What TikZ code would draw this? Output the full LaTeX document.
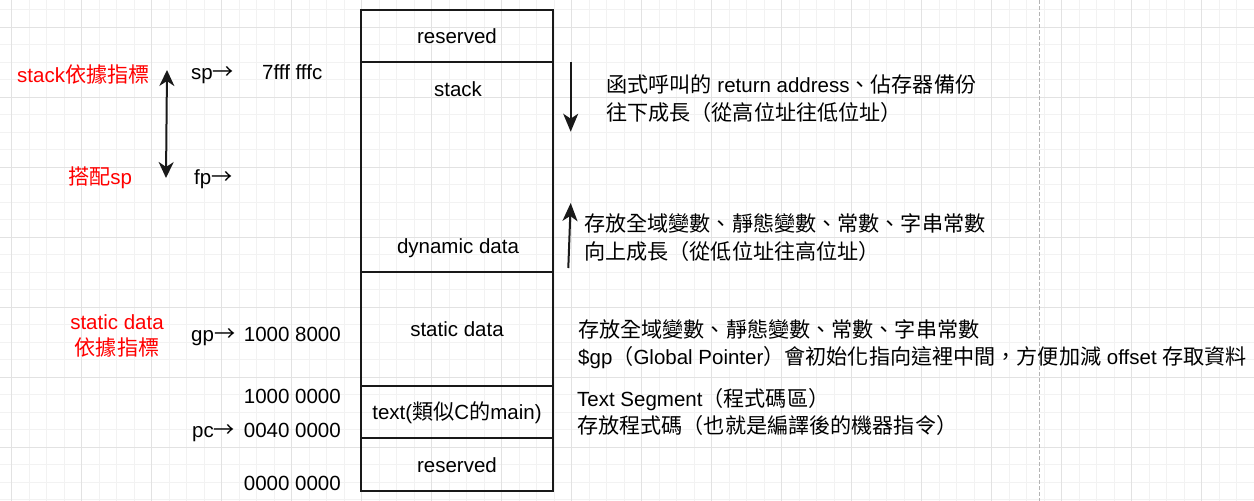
\documentclass[tikz,border=0pt]{standalone}
\usepackage{fontspec}
\setmainfont{Liberation Sans}
\newfontfamily\cjk[Scale=1.03]{Noto Sans CJK TC}
\usetikzlibrary{arrows.meta}
\definecolor{lblred}{RGB}{255,0,0}
\definecolor{gridminor}{RGB}{242,242,242}
\definecolor{gridmajor}{RGB}{226,226,226}
\definecolor{dashgray}{RGB}{180,180,180}
\begin{document}
\begin{tikzpicture}[x=1pt,y=-1pt,
  every node/.style={inner sep=0pt, font=\fontsize{20.5}{24}\selectfont, text height=19pt, text depth=4pt},
  seg/.style={draw=black!90, line width=2pt, minimum width=192pt},
  redlbl/.style={text=lblred},
  arr/.style={line width=2pt, draw=black!90}]
\useasboundingbox (0,0) rectangle (1254,501);
\fill[white] (0,0) rectangle (1254,501);
% grid
\foreach \i in {0,...,70} {\draw[gridminor, line width=1pt] ({11.7+17.5*\i},0) -- ({11.7+17.5*\i},501);}
\foreach \i in {0,...,28} {\draw[gridminor, line width=1pt] (0,{9.8+17.5*\i}) -- (1254,{9.8+17.5*\i});}
\foreach \i in {0,4,...,68} {\draw[gridmajor, line width=1pt] ({11.7+17.5*\i},0) -- ({11.7+17.5*\i},501);}
\foreach \i in {1,5,...,25} {\draw[gridmajor, line width=1pt] (0,{9.8+17.5*\i}) -- (1254,{9.8+17.5*\i});}
\draw[dashgray, line width=1pt, dash pattern=on 3.5pt off 2.5pt] (1039.3,0) -- (1039.3,501);

% memory box
\node[seg, minimum height=52pt] (resTop) at (457,36) {reserved};
\node[seg, minimum height=210pt] (stk) at (457,167) {};
\node (stklbl) at (458,89) {stack};
\node (dyn) at (458,246) {dynamic data};
\node[seg, minimum height=114pt] (stat) at (457,329) {static data};
\node[seg, minimum height=52pt] (txt) at (457,412) {text({\cjk 類似}C{\cjk 的}main)};
\node[seg, minimum height=53pt] (resBot) at (457,464.5) {reserved};

% left labels
\node[redlbl, anchor=west] (l1) at (17,75) {stack{\cjk 依據指標}};
\node[anchor=west] (sp) at (191,72) {sp{\cjk →}};
\node[anchor=west] (spv) at (262,72) {7fff fffc};
\node[redlbl, anchor=west] (l2) at (68,177) {{\cjk 搭配}sp};
\node[anchor=west] (fp) at (194,177) {fp{\cjk →}};
\node[redlbl] (l3) at (117,322) {static data};
\node[redlbl] (l4) at (117,348) {\cjk 依據指標};
\node[anchor=west] (gp) at (191,334) {gp{\cjk →}};
\node[anchor=east] (gpv) at (341,334) {1000 8000};
\node[anchor=east] (a1v) at (341,396) {1000 0000};
\node[anchor=west] (pc) at (192,430) {pc{\cjk →}};
\node[anchor=east] (pcv) at (341,430) {0040 0000};
\node[anchor=east] (a0v) at (341,483) {0000 0000};

% arrows
\coordinate (da) at (167,70);
\coordinate (db) at (166,178);
\draw[arr, {Stealth[length=16pt,width=15pt,inset=5pt]}-{Stealth[length=16pt,width=15pt,inset=5pt]}] (da) -- (db);
\coordinate (sa) at (570.7,62);
\coordinate (sb) at (570.7,131.7);
\draw[arr, -{Stealth[length=18pt,width=15pt,inset=5pt]}] (sa) -- (sb);
\coordinate (ua) at (568.3,268);
\coordinate (ub) at (570.7,203);
\draw[arr, -{Stealth[length=18pt,width=15pt,inset=5pt]}] (ua) -- (ub);

% right descriptions
\node[anchor=west] (d1) at (606,85) {{\cjk 函式呼叫的} return address{\cjk 、佔存器備份}};
\node[anchor=west] (d2) at (606,113) {\cjk 往下成長（從高位址往低位址）};
\node[anchor=west] (d3) at (584,224) {\cjk 存放全域變數、靜態變數、常數、字串常數};
\node[anchor=west] (d4) at (584,252) {\cjk 向上成長（從低位址往高位址）};
\node[anchor=west] (d5) at (578,330) {\cjk 存放全域變數、靜態變數、常數、字串常數};
\node[anchor=west] (d6) at (578,357) {\$gp{\cjk （}Global Pointer{\cjk ）會初始化指向這裡中間，方便加減} offset {\cjk 存取資料}};
\node[anchor=west] (d7) at (577,399) {Text Segment{\cjk （程式碼區）}};
\node[anchor=west] (d8) at (577,426) {\cjk 存放程式碼（也就是編譯後的機器指令）};
\end{tikzpicture}
\end{document}
